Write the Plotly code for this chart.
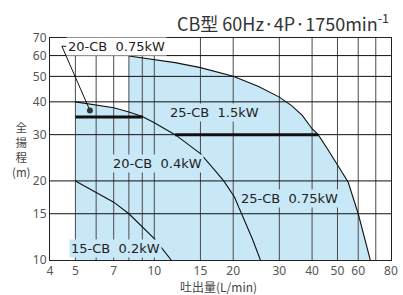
import numpy as np
import plotly.graph_objects as go

# ---- data ----
# 15-CB 0.2kW lower curve
low_q = [5, 6, 7, 8, 9, 10, 11.6]
low_h = [20, 18.1, 16.6, 15, 13.35, 12.06, 10]
# middle curve (20-CB / 25-CB 0.75kW boundary)
mid_q = [5, 6, 7, 8, 9, 10, 11, 12, 13, 15, 17, 18.4, 20.2, 22, 23.7, 25.4]
mid_h = [40, 38.9, 38, 36.6, 35.2, 33.3, 31.5, 30, 28.3, 25.4, 22, 20, 17.4, 14.2, 12, 10]
# outer curve 25-CB 1.5kW
out_q = [8, 10, 12, 15, 20, 25, 30, 33.5, 36.7, 40, 42.2, 46, 50, 54.9, 60, 63.4, 66.7]
out_h = [59.8, 58.1, 56.4, 54.0, 50.1, 45.8, 41.7, 38.6, 35.5, 31.6, 30, 26.3, 22.9, 19.8, 15, 12.2, 10]
# thick range boundaries
thick1_q = [5, 9.05]
thick1_h = [35, 35]
thick2_q = [12, 42.2]
thick2_h = [30, 30]
# leader for 20-CB 0.75kW
lead_q = [4.62, 4.44, 5.68]
lead_h = [65.1, 65.1, 37.1]

labels = ["20-CB\u00a0\u00a00.75kW", "25-CB\u00a0\u00a01.5kW", "20-CB\u00a0\u00a00.4kW",
          "25-CB\u00a0\u00a00.75kW", "15-CB\u00a0\u00a00.2kW"]
label_q = [7.16, 16.9, 10.27, 32.7, 7.11]
label_h = [65.1, 36.4, 23.3, 17.1, 11.05]

x_ticks = [4, 5, 7, 10, 15, 20, 30, 40, 50, 60, 80]
y_ticks = [10, 15, 20, 30, 40, 50, 60, 70]
grid_x_short = [5, 6, 7, 8, 9, 10]
grid_x_full = [15, 20, 30, 40, 50, 60, 70]
grid_y = [15, 20, 30, 40, 50, 60]

BLUE = "#c8e8f8"

fig = go.Figure()

# shaded region built from the curves
n8 = mid_q.index(8)
fx = [5] + mid_q[:n8 + 1] + out_q + [5]
fy = [10] + mid_h[:n8 + 1] + out_h + [10]
fig.add_trace(go.Scatter(x=fx, y=fy, fill="toself", fillcolor=BLUE, mode="lines",
                         line=dict(width=0), hoverinfo="skip", showlegend=False))

# grid lines
gx, gy = [], []
for v in grid_x_short:
    gx += [v, v, None]; gy += [10, 60, None]
for v in grid_x_full:
    gx += [v, v, None]; gy += [10, 70, None]
fig.add_trace(go.Scatter(x=gx, y=gy, mode="lines", line=dict(color="#4a4a4a", width=1),
                         hoverinfo="skip", showlegend=False))
hx, hy = [], []
for v in grid_y:
    hx += [4, 80, None]; hy += [v, v, None]
fig.add_trace(go.Scatter(x=hx, y=hy, mode="lines", line=dict(color="#111", width=1),
                         hoverinfo="skip", showlegend=False))

# curves
for q, h in [(low_q, low_h), (mid_q, mid_h), (out_q, out_h)]:
    fig.add_trace(go.Scatter(x=q, y=h, mode="lines", line=dict(color="#111", width=1.1),
                             hoverinfo="skip", showlegend=False))
for q, h in [(thick1_q, thick1_h), (thick2_q, thick2_h)]:
    fig.add_trace(go.Scatter(x=q, y=h, mode="lines", line=dict(color="#111", width=3),
                             hoverinfo="skip", showlegend=False))
fig.add_trace(go.Scatter(x=lead_q, y=lead_h, mode="lines", line=dict(color="#111", width=1),
                         hoverinfo="skip", showlegend=False))
fig.add_trace(go.Scatter(x=[lead_q[-1]], y=[lead_h[-1]], mode="markers",
                         marker=dict(color="#333", size=6), hoverinfo="skip", showlegend=False))

# labels
for i, (t, q, h) in enumerate(zip(labels, label_q, label_h)):
    fig.add_annotation(x=np.log10(q), y=np.log10(h), xref="x", yref="y", text=t,
                       showarrow=False, font=dict(family="DejaVu Sans", size=13, color="#222"),
                       bgcolor="white" if i == 0 else BLUE, borderpad=1)

# title
fig.add_annotation(xref="paper", yref="paper", x=1.0, y=1.072, xanchor="right", yanchor="middle",
                   text="CB型 60Hz·4P·1750min<sup>-1</sup>", showarrow=False,
                   font=dict(family="Noto Sans CJK JP", size=18, color="#333"))
# x title
fig.add_annotation(xref="paper", yref="paper", x=0.494, y=(260 - 286) / 222, xanchor="center",
                   yanchor="middle", text="吐出量(L/min)", showarrow=False, borderpad=0,
                   font=dict(family="Noto Sans CJK JP", size=12, color="#444"))
# y title (stacked)
fig.add_annotation(xref="paper", yref="paper", x=(20 - 50) / 348, y=(260 - 149) / 222,
                   xanchor="center", yanchor="middle", text="全<br>揚<br>程<br>(m)", showarrow=False,
                   font=dict(family="Noto Sans CJK JP", size=11.5, color="#444"))

fig.update_xaxes(type="log", range=[np.log10(4), np.log10(80) + 1e-4], tickvals=x_ticks,
                 ticktext=[str(v) for v in x_ticks], showgrid=False, zeroline=False,
                 showline=True, mirror=True, linecolor="#222", linewidth=1, ticks="",
                 ticklabeloverflow="allow",
                 tickfont=dict(family="Noto Sans", size=12, color="#555"))
fig.update_yaxes(type="log", range=[np.log10(10), np.log10(70)], tickvals=y_ticks,
                 ticktext=[str(v) for v in y_ticks], showgrid=False, zeroline=False,
                 showline=True, mirror=True, linecolor="#222", linewidth=1, ticks="",
                 tickfont=dict(family="Noto Sans", size=12, color="#555"))

fig.update_layout(width=403, height=295, margin=dict(l=50, r=5, t=38, b=35),
                  paper_bgcolor="white", plot_bgcolor="white", showlegend=False)

fig.write_html("out.html", config={"displayModeBar": False},
               post_script="document.body.style.margin='0px';document.body.style.overflow='hidden';")
